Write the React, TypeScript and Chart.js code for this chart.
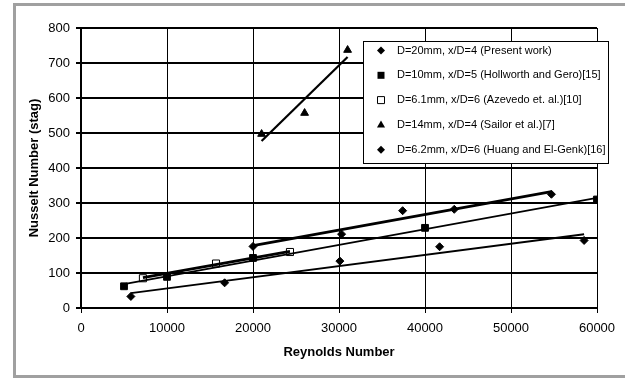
import React, { useEffect, useRef } from "react";
import { Chart, registerables } from "chart.js";

Chart.register(...registerables);

// Stagnation Nusselt number vs Reynolds number, five data sets with linear trendlines
const presentRe = [5800, 16700, 30100, 41700, 58500];
const presentNu = [33, 72, 134, 175, 193];

const hollworthRe = [5000, 10000, 20000, 40000, 60000];
const hollworthNu = [62, 89, 143, 229, 310];

const azevedoRe = [7200, 15700, 24300];
const azevedoNu = [85, 127, 160];

const sailorRe = [21000, 26000, 31000];
const sailorNu = [497, 557, 737];

const huangRe = [20000, 30300, 37400, 43400, 54700];
const huangNu = [176, 211, 278, 282, 325];

const seriesLabels = [
  "D=20mm, x/D=4 (Present work)",
  "D=10mm, x/D=5 (Hollworth and Gero)[15]",
  "D=6.1mm, x/D=6 (Azevedo et. al.)[10]",
  "D=14mm, x/D=4 (Sailor et al.)[7]",
  "D=6.2mm, x/D=6 (Huang and El-Genk)[16]",
];

const xTicks = [0, 10000, 20000, 30000, 40000, 50000, 60000];
const yTicks = [0, 100, 200, 300, 400, 500, 600, 700, 800];

const xTitle = "Reynolds Number";
const yTitle = "Nusselt Number (stag)";

type Marker = "diamond" | "square" | "openSquare" | "triangle";

const FONT = "'Liberation Sans', Arial, sans-serif";

function toPoints(xs: number[], ys: number[]) {
  return xs.map((x, i) => ({ x, y: ys[i] }));
}

// least-squares trendline across the data range
function trend(xs: number[], ys: number[]) {
  const n = xs.length;
  const mx = xs.reduce((a, b) => a + b, 0) / n;
  const my = ys.reduce((a, b) => a + b, 0) / n;
  let sxy = 0;
  let sxx = 0;
  for (let i = 0; i < n; i++) {
    sxy += (xs[i] - mx) * (ys[i] - my);
    sxx += (xs[i] - mx) * (xs[i] - mx);
  }
  const slope = sxy / sxx;
  const icpt = my - slope * mx;
  const x0 = Math.min(...xs);
  const x1 = Math.max(...xs);
  return [
    { x: x0, y: icpt + slope * x0 },
    { x: x1, y: icpt + slope * x1 },
  ];
}

function drawMarker(ctx: CanvasRenderingContext2D, kind: Marker, x: number, y: number) {
  ctx.save();
  ctx.fillStyle = "#000";
  ctx.strokeStyle = "#000";
  ctx.lineWidth = 1;
  ctx.beginPath();
  if (kind === "diamond") {
    const r = 4;
    ctx.moveTo(x, y - r);
    ctx.lineTo(x + r, y);
    ctx.lineTo(x, y + r);
    ctx.lineTo(x - r, y);
    ctx.closePath();
    ctx.fill();
  } else if (kind === "square") {
    ctx.rect(x - 3.5, y - 3.5, 7, 7);
    ctx.fill();
  } else if (kind === "openSquare") {
    ctx.fillStyle = "#fff";
    ctx.rect(x - 3.5, y - 3.5, 7, 7);
    ctx.fill();
    ctx.stroke();
  } else {
    const r = 4.5;
    ctx.moveTo(x, y - r);
    ctx.lineTo(x + r * 0.9, y + r * 0.6);
    ctx.lineTo(x - r * 0.9, y + r * 0.6);
    ctx.closePath();
    ctx.fill();
  }
  ctx.restore();
}

const legendMarkers: Marker[] = ["diamond", "square", "openSquare", "triangle", "diamond"];

const framePlugin = {
  id: "frame",
  beforeDraw(chart: any) {
    const { ctx, width, height } = chart;
    ctx.save();
    ctx.fillStyle = "#fff";
    ctx.fillRect(0, 0, width, height);
    ctx.strokeStyle = "#a0a0a0";
    ctx.lineWidth = 3;
    ctx.strokeRect(14.5, 4.5, width + 10, height - 7);
    ctx.restore();
  },
};

const legendPlugin = {
  id: "boxLegend",
  afterDraw(chart: any) {
    const { ctx } = chart;
    const left = 363.5;
    const top = 41.5;
    const w = 245;
    const h = 122;
    ctx.save();
    ctx.fillStyle = "#fff";
    ctx.fillRect(left, top, w, h);
    ctx.strokeStyle = "#000";
    ctx.lineWidth = 1;
    ctx.strokeRect(left, top, w, h);
    ctx.font = `11px ${FONT}`;
    ctx.textBaseline = "middle";
    ctx.textAlign = "left";
    ctx.fillStyle = "#000";
    seriesLabels.forEach((label, i) => {
      const y = 50.5 + i * 24.8;
      drawMarker(ctx, legendMarkers[i], 381, y);
      ctx.fillStyle = "#000";
      ctx.fillText(label, 397, y);
    });
    ctx.restore();
  },
};

function scatterSet(label: string, xs: number[], ys: number[], style: string, radius: number, fill: string) {
  return {
    label,
    data: toPoints(xs, ys),
    showLine: false,
    pointStyle: style,
    pointRadius: radius,
    pointBackgroundColor: fill,
    pointBorderColor: "#000",
    pointBorderWidth: 1,
    order: 1,
  };
}

function trendSet(xs: number[], ys: number[], width: number) {
  return {
    label: "",
    data: trend(xs, ys),
    showLine: true,
    borderColor: "#000",
    borderWidth: width,
    pointRadius: 0,
    fill: false,
    order: 0,
  };
}

export default function App() {
  const ref = useRef<HTMLCanvasElement | null>(null);

  useEffect(() => {
    if (!ref.current) return;
    const chart = new Chart(ref.current, {
      type: "scatter",
      data: {
        datasets: [
          scatterSet(seriesLabels[0], presentRe, presentNu, "rectRot", 4, "#000"),
          scatterSet(seriesLabels[1], hollworthRe, hollworthNu, "rect", 4.8, "#000"),
          scatterSet(seriesLabels[2], azevedoRe, azevedoNu, "rect", 5, "#fff"),
          scatterSet(seriesLabels[3], sailorRe, sailorNu, "triangle", 4.5, "#000"),
          scatterSet(seriesLabels[4], huangRe, huangNu, "rectRot", 4, "#000"),
          trendSet(presentRe, presentNu, 1.8),
          trendSet(hollworthRe, hollworthNu, 1.8),
          trendSet(azevedoRe, azevedoNu, 2.8),
          trendSet(sailorRe, sailorNu, 2.2),
          trendSet(huangRe, huangNu, 2.8),
        ] as any,
      },
      options: {
        animation: false,
        responsive: false,
        devicePixelRatio: 1,
        layout: { padding: { left: 0, top: 28, right: 28, bottom: 0 } },
        plugins: {
          legend: { display: false },
          tooltip: { enabled: false },
        },
        scales: {
          x: {
            type: "linear",
            min: 0,
            max: 60000,
            afterFit: (s: any) => {
              s.height = 71;
            },
            afterBuildTicks: (s: any) => {
              s.ticks = xTicks.map((v) => ({ value: v }));
            },
            ticks: {
              color: "#000",
              font: { family: FONT, size: 13 },
              padding: 8,
              maxRotation: 0,
              callback: (v: any) => String(v),
            },
            grid: {
              color: "#000",
              lineWidth: 1,
              tickLength: 5,
              tickColor: "#000",
            },
            border: { display: true, color: "#000", width: 2 },
            title: {
              display: true,
              text: xTitle,
              color: "#000",
              font: { family: FONT, size: 13, weight: "bold" },
              padding: { top: 0, bottom: 19 },
            },
          },
          y: {
            type: "linear",
            min: 0,
            max: 800,
            afterFit: (s: any) => {
              s.width = 81;
            },
            afterBuildTicks: (s: any) => {
              s.ticks = yTicks.map((v) => ({ value: v }));
            },
            ticks: {
              color: "#000",
              font: { family: FONT, size: 13 },
              padding: 6,
              callback: (v: any) => String(v),
            },
            grid: {
              color: "#000",
              lineWidth: 2,
              tickLength: 5,
              tickColor: "#000",
            },
            border: { display: true, color: "#000", width: 2 },
            title: {
              display: true,
              text: yTitle,
              color: "#000",
              font: { family: FONT, size: 13, weight: "bold" },
              padding: { top: 27, bottom: 0 },
            },
          },
        },
      } as any,
      plugins: [framePlugin, legendPlugin],
    });
    return () => chart.destroy();
  }, []);

  return (
    <div style={{ position: "fixed", left: 0, top: 0, width: 625, height: 379 }}>
      <canvas ref={ref} width={625} height={379} style={{ display: "block" }} />
    </div>
  );
}
